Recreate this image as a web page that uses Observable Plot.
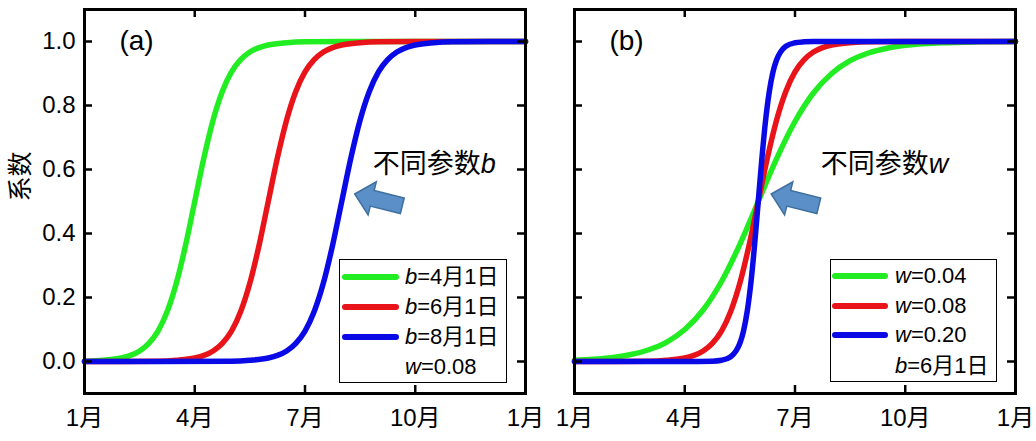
<!DOCTYPE html>
<html>
<head>
<meta charset="utf-8">
<script src="https://cdn.jsdelivr.net/npm/d3@7"></script>
<script src="https://cdn.jsdelivr.net/npm/@observablehq/plot@0.6"></script>
<style>
  html, body { margin: 0; padding: 0; background: #fff; }
  #wrap { position: relative; width: 1036px; height: 441px; overflow: hidden;
          font-family: 'Liberation Sans', Arial, 'Noto Sans CJK SC', sans-serif; color: #000; }
  .panel { position: absolute; top: 0; }
  .legend { position: absolute; box-sizing: border-box; border: 1.5px solid #000; background: #fff; }
  .legend .sw { position: absolute; height: 5.5px; border-radius: 3px; }
  .legend .lb { position: absolute; font-size: 22px; line-height: 1; transform: translateY(-50%); white-space: nowrap; }
</style>
</head>
<body>
<div id="wrap">
  <div id="pa" class="panel" style="left:0px"></div>
  <div id="pb" class="panel" style="left:545px"></div>
</div>
<script>
// ---------- data (x in months since 1 Jan, y = coefficient) ----------
const xTicks = [0, 3, 6, 9, 12];
const xTickLabels = ["1月", "4月", "7月", "10月", "1月"];
const yTicks = [0, 0.2, 0.4, 0.6, 0.8, 1.0];

// Panel (a): w = 0.08, b = 4月1日 / 6月1日 / 8月1日
const a_green_x = [0, 0.5, 1, 1.25, 1.5, 1.75, 2, 2.25, 2.5, 2.75, 3, 3.25, 3.5, 3.75, 4, 4.25, 4.5, 4.75, 5, 5.5, 6, 7, 12];
const a_green_y = [0.001, 0.004, 0.011, 0.019, 0.033, 0.057, 0.095, 0.156, 0.245, 0.363, 0.5, 0.637, 0.755, 0.844, 0.905, 0.943, 0.967, 0.981, 0.989, 0.996, 0.999, 1, 1];
const a_red_x = [0, 1, 2, 2.5, 3, 3.25, 3.5, 3.75, 4, 4.25, 4.5, 4.75, 5, 5.25, 5.5, 5.75, 6, 6.25, 6.5, 6.75, 7, 7.5, 8, 9, 12];
const a_red_y = [0, 0, 0.001, 0.004, 0.011, 0.019, 0.033, 0.057, 0.095, 0.156, 0.245, 0.363, 0.5, 0.637, 0.755, 0.844, 0.905, 0.943, 0.967, 0.981, 0.989, 0.996, 0.999, 1, 1];
const a_blue_x = [0, 2, 4, 4.5, 5, 5.25, 5.5, 5.75, 6, 6.25, 6.5, 6.75, 7, 7.25, 7.5, 7.75, 8, 8.25, 8.5, 8.75, 9, 9.5, 10, 11, 12];
const a_blue_y = [0, 0, 0.001, 0.004, 0.011, 0.019, 0.033, 0.057, 0.095, 0.156, 0.245, 0.363, 0.5, 0.637, 0.755, 0.844, 0.905, 0.943, 0.967, 0.981, 0.989, 0.996, 0.999, 1, 1];

// Panel (b): b = 6月1日, w = 0.04 / 0.08 / 0.20
const b_green_x = [0, 0.5, 1, 1.5, 2, 2.5, 3, 3.5, 4, 4.5, 5, 5.5, 6, 6.5, 7, 7.5, 8, 8.5, 9, 10, 11, 12];
const b_green_y = [0.004, 0.007, 0.012, 0.021, 0.036, 0.060, 0.100, 0.161, 0.250, 0.366, 0.5, 0.634, 0.750, 0.839, 0.900, 0.940, 0.964, 0.979, 0.988, 0.996, 0.999, 1];
const b_red_x = [0, 1, 2, 2.5, 3, 3.25, 3.5, 3.75, 4, 4.25, 4.5, 4.75, 5, 5.25, 5.5, 5.75, 6, 6.25, 6.5, 6.75, 7, 7.5, 8, 9, 12];
const b_red_y = [0, 0, 0.001, 0.004, 0.011, 0.019, 0.033, 0.057, 0.095, 0.156, 0.245, 0.363, 0.5, 0.637, 0.755, 0.844, 0.905, 0.943, 0.967, 0.981, 0.989, 0.996, 0.999, 1, 1];
const b_blue_x = [0, 3, 3.75, 4, 4.25, 4.4, 4.5, 4.6, 4.7, 4.8, 4.9, 5, 5.1, 5.2, 5.3, 5.4, 5.5, 5.6, 5.75, 6, 6.25, 6.5, 12];
const b_blue_y = [0, 0, 0.001, 0.004, 0.015, 0.034, 0.057, 0.096, 0.157, 0.246, 0.364, 0.5, 0.636, 0.754, 0.843, 0.904, 0.943, 0.966, 0.985, 0.996, 0.999, 1, 1];

const legendA_param = "b", legendA_values = ["4月1日", "6月1日", "8月1日"], legendA_fixed = ["w", "0.08"];
const legendB_param = "w", legendB_values = ["0.04", "0.08", "0.20"], legendB_fixed = ["b", "6月1日"];

// ---------- styling ----------
const colors = ["#22ec22", "#e8141a", "#0a0ae6"];
const FONT = "'Liberation Sans', Arial, 'Noto Sans CJK SC', sans-serif";
const H = 441, MT = 9, MB = 48;
const innerH = H - MT - MB;
const TICK = 8;

const rows = (xs, ys) => xs.map((x, i) => ({x, y: ys[i]}));

function blockArrow(angleDeg) {
  const a = angleDeg * Math.PI / 180, c = Math.cos(a), s = Math.sin(a);
  const pts = [[-1, 0], [-0.265, -0.694], [-0.265, -0.327], [1, -0.327], [1, 0.327], [-0.265, 0.327], [-0.265, 0.694]];
  return {
    draw(ctx, size) {
      const r = Math.sqrt(size / Math.PI);
      pts.forEach(([px, py], i) => {
        const X = (px * c - py * s) * r, Y = (px * s + py * c) * r;
        i ? ctx.lineTo(X, Y) : ctx.moveTo(X, Y);
      });
      ctx.closePath();
    }
  };
}

function panel({width, marginLeft, marginRight, series, label, param, arrowX, textX, yAxis}) {
  const innerW = width - marginLeft - marginRight;
  const marks = [];
  series.forEach(([xs, ys], i) => {
    marks.push(Plot.line(rows(xs, ys), {x: "x", y: "y", stroke: colors[i], strokeWidth: 5.5, curve: "monotone-x", strokeLinecap: "round"}));
  });
  marks.push(
    Plot.ruleX(xTicks, {x: d => d, insetTop: innerH - TICK, stroke: "#000", strokeWidth: 2.5}),
    Plot.ruleX(xTicks, {x: d => d, insetBottom: innerH - TICK, stroke: "#000", strokeWidth: 2.5}),
    Plot.ruleY(yTicks, {y: d => d, insetRight: innerW - TICK, stroke: "#000", strokeWidth: 2.5}),
    Plot.ruleY(yTicks, {y: d => d, insetLeft: innerW - TICK, stroke: "#000", strokeWidth: 2.5}),
    Plot.frame({stroke: "#000", strokeWidth: 3}),
    Plot.axisX(xTicks, {tickSize: 0, tickPadding: 15, fontSize: 24, label: null,
      tickFormat: d => xTickLabels[xTicks.indexOf(d)]}),
    Plot.text([label], {x: 0.95, y: 1.0, textAnchor: "start", fontSize: 28}),
    Plot.text(["不同参数"], {x: textX, y: 0.615, textAnchor: "end", fontSize: 27}),
    Plot.text([param], {x: textX, y: 0.615, textAnchor: "start", fontSize: 27, fontStyle: "italic"}),
    Plot.dot([0], {x: arrowX, y: 0.505, r: 24.5, symbol: blockArrow(14), fill: "#5a8fc8", stroke: "#3e6f9f", strokeWidth: 1.5})
  );
  if (yAxis) {
    marks.push(
      Plot.axisY(yTicks, {tickSize: 0, tickPadding: 9, fontSize: 24, label: null, tickFormat: d3.format(".1f")}),
      Plot.text(["系数"], {frameAnchor: "left", dx: -64, rotate: -90, fontSize: 25})
    );
  }
  return Plot.plot({
    width, height: H, marginLeft, marginRight, marginTop: MT, marginBottom: MB,
    x: {domain: [0, 12]},
    y: {domain: [-0.1, 1.1], axis: yAxis ? undefined : null},
    style: {fontFamily: FONT, fontSize: "24px", color: "#000", background: "transparent", overflow: "visible"},
    marks
  });
}

document.getElementById("pa").append(panel({
  width: 545, marginLeft: 84, marginRight: 20,
  series: [[a_green_x, a_green_y], [a_red_x, a_red_y], [a_blue_x, a_blue_y]],
  label: "(a)", param: "b", arrowX: 8.0, textX: 10.78, yAxis: true
}));
document.getElementById("pb").append(panel({
  width: 491, marginLeft: 29, marginRight: 21,
  series: [[b_green_x, b_green_y], [b_red_x, b_red_y], [b_blue_x, b_blue_y]],
  label: "(b)", param: "w", arrowX: 6.0, textX: 9.64, yAxis: false
}));

// ---------- legends (HTML overlays inside the frames) ----------
function legend({left, top, width, height, swLeft, swWidth, textLeft, rowsY, param, values, fixed}) {
  const box = document.createElement("div");
  box.className = "legend";
  Object.assign(box.style, {left: left + "px", top: top + "px", width: width + "px", height: height + "px"});
  values.forEach((v, i) => {
    const sw = document.createElement("div");
    sw.className = "sw";
    Object.assign(sw.style, {left: swLeft + "px", width: swWidth + "px", top: (rowsY[i] - 2.75) + "px", background: colors[i]});
    box.append(sw);
    const lb = document.createElement("div");
    lb.className = "lb";
    Object.assign(lb.style, {left: textLeft + "px", top: rowsY[i] + "px"});
    lb.innerHTML = `<i>${param}</i>=${v}`;
    box.append(lb);
  });
  const lb = document.createElement("div");
  lb.className = "lb";
  Object.assign(lb.style, {left: textLeft + "px", top: rowsY[3] + "px"});
  lb.innerHTML = `<i>${fixed[0]}</i>=${fixed[1]}`;
  box.append(lb);
  document.getElementById("wrap").append(box);
}
legend({left: 339, top: 259, width: 168, height: 124, swLeft: 2, swWidth: 57, textLeft: 65,
  rowsY: [17, 47, 77, 107], param: legendA_param, values: legendA_values, fixed: legendA_fixed});
legend({left: 830, top: 259, width: 167, height: 123, swLeft: 1, swWidth: 56, textLeft: 64,
  rowsY: [16, 46, 75, 106], param: legendB_param, values: legendB_values, fixed: legendB_fixed});
</script>
</body>
</html>
